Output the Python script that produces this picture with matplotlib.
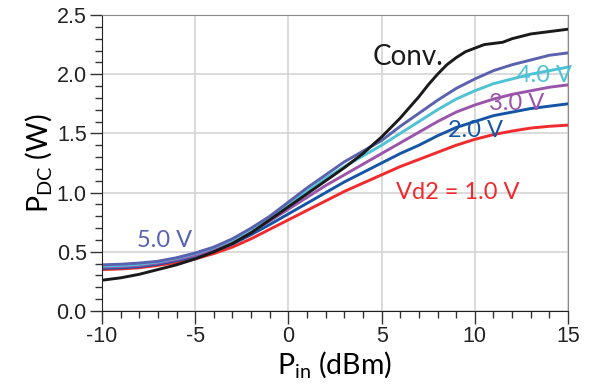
import matplotlib
matplotlib.use('Agg')
import matplotlib.pyplot as plt
import numpy as np
from matplotlib.ticker import MultipleLocator

# input power (dBm)
pin = [-10, -9, -8, -7, -6, -5, -4, -3, -2, -1, 0, 1, 2, 3, 4, 5, 6, 7, 8, 9,
       10, 11, 12, 13, 14, 15]

# DC power (W)
vd_5v = [0.39, 0.395, 0.405, 0.42, 0.45, 0.49, 0.54, 0.61, 0.70, 0.80, 0.92, 1.04,
         1.15, 1.26, 1.35, 1.44, 1.56, 1.67, 1.78, 1.88, 1.96, 2.03, 2.08, 2.12, 2.16, 2.18]
vd_4v = [0.38, 0.385, 0.395, 0.415, 0.445, 0.485, 0.535, 0.60, 0.69, 0.79, 0.90, 1.01,
         1.12, 1.22, 1.31, 1.40, 1.50, 1.60, 1.70, 1.79, 1.86, 1.92, 1.96, 2.00, 2.03, 2.06]
vd_3v = [0.37, 0.375, 0.385, 0.405, 0.435, 0.47, 0.52, 0.585, 0.665, 0.76, 0.86, 0.96,
         1.06, 1.15, 1.24, 1.33, 1.42, 1.51, 1.60, 1.68, 1.74, 1.79, 1.83, 1.86, 1.89, 1.91]
vd_2v = [0.36, 0.365, 0.375, 0.395, 0.425, 0.46, 0.505, 0.565, 0.645, 0.73, 0.82, 0.91,
         1.00, 1.09, 1.17, 1.25, 1.33, 1.40, 1.48, 1.55, 1.60, 1.65, 1.68, 1.71, 1.73, 1.75]
vd_1v = [0.35, 0.355, 0.365, 0.385, 0.41, 0.44, 0.485, 0.54, 0.61, 0.69, 0.77, 0.85,
         0.93, 1.01, 1.08, 1.15, 1.22, 1.28, 1.34, 1.40, 1.45, 1.49, 1.52, 1.545, 1.56, 1.57]

# conventional amplifier
pin_conv = [-10, -9, -8, -7, -6, -5, -4, -3, -2, -1, 0, 1, 2, 3, 4, 5, 6, 7, 7.5, 8,
            8.5, 9, 9.5, 10, 10.5, 11, 11.5, 12, 13, 14, 15]
conv = [0.26, 0.28, 0.31, 0.35, 0.39, 0.44, 0.50, 0.57, 0.66, 0.77, 0.88, 0.99, 1.10,
        1.21, 1.33, 1.47, 1.63, 1.81, 1.91, 2.00, 2.08, 2.14, 2.19, 2.22, 2.25, 2.26,
        2.27, 2.30, 2.34, 2.36, 2.38]

c5, c4, c3, c2, c1 = '#5a62b0', '#4ec3d6', '#9a55aa', '#1655a6', '#f02a2d'

plt.rcParams['mathtext.default'] = 'regular'
plt.rcParams['axes.unicode_minus'] = False
fig = plt.figure(figsize=(5.92, 3.87), dpi=100)
ax = fig.add_axes([0.1723, 0.1964, 0.7872, 0.7648])

lw = 2.1
ax.plot(pin, vd_1v, color=c1, lw=lw)
ax.plot(pin, vd_2v, color=c2, lw=lw)
ax.plot(pin, vd_3v, color=c3, lw=lw)
ax.plot(pin, vd_4v, color=c4, lw=lw)
ax.plot(pin, vd_5v, color=c5, lw=lw)
ax.plot(pin_conv, conv, color='#1a1a1a', lw=lw)

ax.set_xlim(-10, 15)
ax.set_ylim(0, 2.5)
ax.xaxis.set_major_locator(MultipleLocator(5))
ax.xaxis.set_minor_locator(MultipleLocator(1))
ax.yaxis.set_major_locator(MultipleLocator(0.5))
ax.yaxis.set_minor_locator(MultipleLocator(0.1))
ax.yaxis.set_major_formatter(matplotlib.ticker.FormatStrFormatter('%.1f'))
ax.grid(True, which='major', color='#d4d4d4', lw=1.2)
ax.set_axisbelow(True)

ax.tick_params(which='major', length=9, width=1, color='#333333', labelsize=15.5, pad=2)
ax.tick_params(which='minor', length=5, width=1, color='#333333')
for lab in ax.get_xticklabels() + ax.get_yticklabels():
    lab.set_fontfamily('Liberation Sans')
    lab.set_color('#222222')

for s in ['top', 'right']:
    ax.spines[s].set_color('#8a8a8a')
for s in ['left', 'bottom']:
    ax.spines[s].set_color('#222222')

lab_font = 'Lato'
ax.set_xlabel('P$_{in}$ (dBm)', fontsize=20.5, fontfamily=lab_font, labelpad=1)
ax.set_ylabel('P$_{DC}$ (W)', fontsize=20.5, fontfamily=lab_font, labelpad=2)

# curve labels
ax.text(4.5, 2.08, 'Conv.', fontsize=20, fontfamily=lab_font, color='#1a1a1a')
ax.text(12.26, 1.93, '4.0 V', fontsize=17, fontfamily=lab_font, color=c4)
ax.text(10.76, 1.70, '3.0 V', fontsize=17, fontfamily=lab_font, color=c3)
ax.text(8.56, 1.47, '2.0 V', fontsize=17, fontfamily=lab_font, color=c2)
ax.text(5.77, 0.95, 'Vd2 = 1.0 V', fontsize=17, fontfamily=lab_font, color=c1)
ax.text(-8.12, 0.54, '5.0 V', fontsize=17, fontfamily=lab_font, color=c5)

plt.savefig('out.png', dpi=100)
